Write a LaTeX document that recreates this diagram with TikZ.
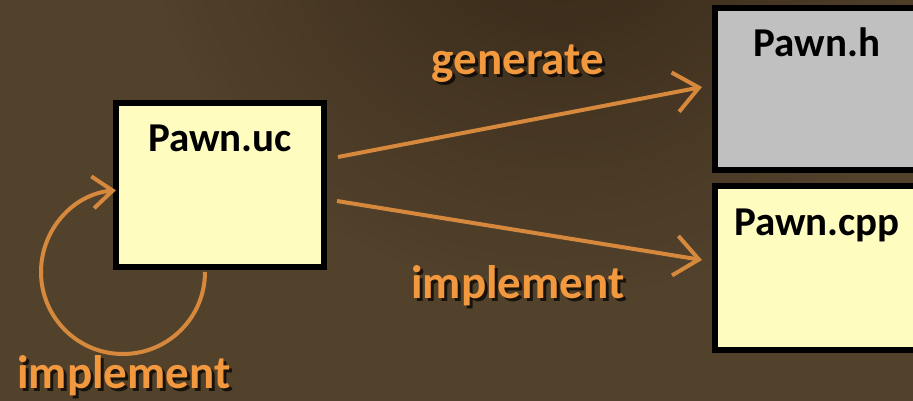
\documentclass[tikz,border=0pt]{standalone}
\usepackage{fontspec}
\setmainfont{Carlito}
\usetikzlibrary{arrows.meta,positioning}
\definecolor{bark}{RGB}{82,66,44}
\definecolor{barkdark}{RGB}{46,31,17}
\definecolor{note}{RGB}{255,252,192}
\definecolor{header}{RGB}{192,192,192}
\definecolor{chalk}{RGB}{242,152,62}
\definecolor{brush}{RGB}{214,136,60}
\tikzset{
  file/.style={draw=black,line width=6pt,minimum width=208pt,minimum height=164pt,inner sep=0pt},
  filename/.style={font=\bfseries\fontsize{41}{41}\selectfont,anchor=base,yshift=-52pt},
  word/.style={text=chalk,font=\bfseries\fontsize{47}{47}\selectfont,anchor=base,inner sep=0pt},
  wordshadow/.style={word,text=black,opacity=0.7},
  stroke/.style={draw=brush,line width=4pt,-{Straight Barb[length=24pt,width=40pt]}}
}
\newcommand{\arrowword}[3]{%
  \node[wordshadow] at ([shift={(3,3)}]#2) {#3};
  \node[word] (#1) at (#2) {#3};}
\begin{document}
\begin{tikzpicture}[x=1pt,y=-1pt]
\useasboundingbox (0,0) rectangle (913,401);
\clip (0,0) rectangle (913,401);
\fill[bark] (0,0) rectangle (913,401);
\shade[inner color=barkdark,outer color=bark,opacity=.8] (560,-120) circle[radius=420];
\node[file,fill=note,label={[filename]north:Pawn.uc}] (uc) at (220,185) {};
\node[file,fill=header,minimum width=204pt,minimum height=162pt,label={[filename]north:Pawn.h}] (h) at (817,89) {};
\node[file,fill=note,minimum width=204pt,label={[filename]north:Pawn.cpp}] (cpp) at (817,268) {};
\draw[stroke] ([shift={(11,-28)}]uc.east) -- ([shift={(-10,-2)}]h.west);
\draw[stroke] ([shift={(10,16)}]uc.east) -- ([shift={(-10,-8)}]cpp.west);
\draw[stroke,-{Straight Barb[length=20pt,width=32pt]}] ([shift={(92,2)}]uc.south west) arc[start angle=0,end angle=265,radius=82];
\arrowword{gen}{518,75}{generate}
\arrowword{impl}{518,298}{implement}
\arrowword{self}{124,388}{implement}
\end{tikzpicture}
\end{document}
